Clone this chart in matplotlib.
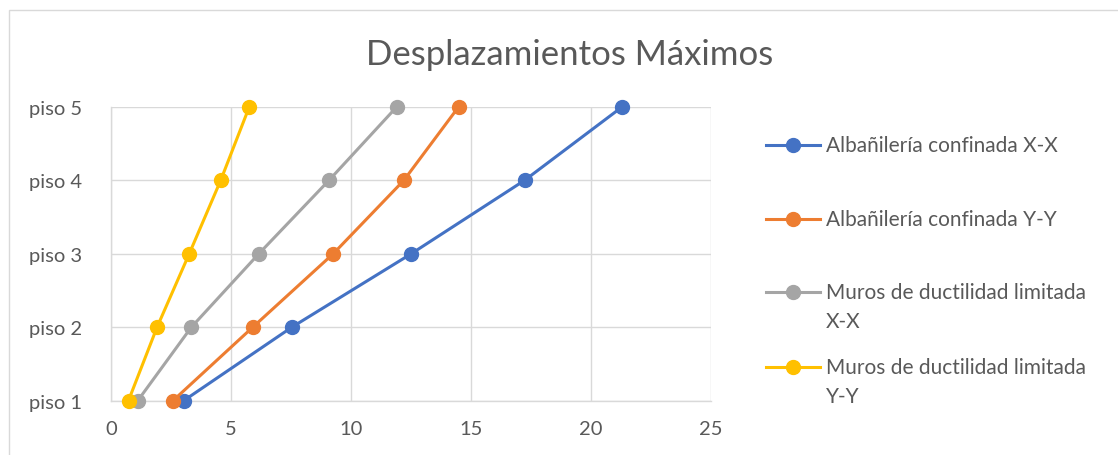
import matplotlib
matplotlib.use("Agg")
import matplotlib.pyplot as plt
from matplotlib.lines import Line2D
from matplotlib.patches import Rectangle

plt.rcParams['font.family'] = ['Lato', 'DejaVu Sans']

pisos = ["piso 1", "piso 2", "piso 3", "piso 4", "piso 5"]
niveles = [1, 2, 3, 4, 5]
alb_xx = [3.04, 7.54, 12.51, 17.23, 21.29]
alb_yy = [2.59, 5.91, 9.26, 12.20, 14.48]
muros_xx = [1.12, 3.35, 6.16, 9.08, 11.90]
muros_yy = [0.73, 1.92, 3.26, 4.57, 5.76]

series = [
    (alb_xx, "#4472C4", ["Albañilería confinada X-X"]),
    (alb_yy, "#ED7D31", ["Albañilería confinada Y-Y"]),
    (muros_xx, "#A5A5A5", ["Muros de ductilidad limitada", "X-X"]),
    (muros_yy, "#FFC000", ["Muros de ductilidad limitada", "Y-Y"]),
]
txt = "#595959"
grid_c = "#D9D9D9"

W, H = 1118, 456
fig = plt.figure(figsize=(W / 100, H / 100), dpi=100)
ax = fig.add_axes([111 / W, 1 - 401.5 / H, 600 / W, 293.5 / H])

for vals, col, lab in series:
    ax.plot(vals, niveles, color=col, lw=2.2, marker="o", ms=10, zorder=3, clip_on=False)

ax.set_xlim(0, 25)
ax.set_ylim(1, 5)
ax.set_xticks([0, 5, 10, 15, 20, 25])
ax.set_yticks(niveles)
ax.set_yticklabels(pisos)
ax.grid(True, color=grid_c, lw=1)
ax.set_axisbelow(True)
for s in ["top", "right"]:
    ax.spines[s].set_visible(False)
for s in ["left", "bottom"]:
    ax.spines[s].set_color(grid_c)
    ax.spines[s].set_linewidth(1)
ax.tick_params(axis="both", length=0, labelsize=14.5, labelcolor=txt)
ax.tick_params(axis="y", pad=21)
ax.tick_params(axis="x", pad=14)

fig.text(570 / W, 1 - 55 / H, "Desplazamientos Máximos", ha="center", va="center",
         fontsize=25, color=txt)

# legend
ys = [146, 220, 293, 368]
for (vals, col, lab), y in zip(series, ys):
    fy = 1 - y / H
    fig.add_artist(Line2D([766 / W, 820 / W], [fy, fy], color=col, lw=2.2,
                          transform=fig.transFigure))
    fig.add_artist(Line2D([793 / W], [fy], color=col, marker="o", ms=10,
                          transform=fig.transFigure))
    for i, line in enumerate(lab):
        fig.text(826 / W, fy - i * 29 / H, line, ha="left", va="center",
                 fontsize=15, color=txt)

fig.add_artist(Rectangle((8.5 / W, -0.1), 1.2, 1.1 - 10.5 / H, fill=False,
                         edgecolor=grid_c, lw=1, transform=fig.transFigure))

fig.savefig("out.png", dpi=100)
